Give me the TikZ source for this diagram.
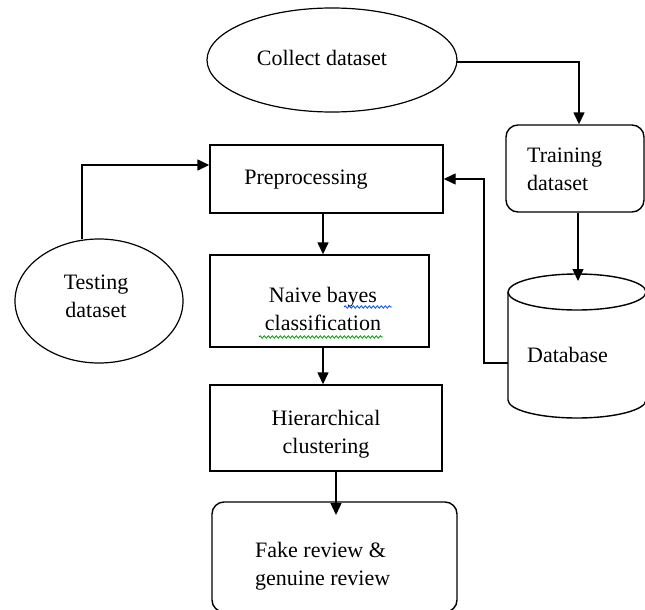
\documentclass[tikz,border=0pt]{standalone}
\usepackage{fontspec}
\setmainfont{Liberation Serif}
\usetikzlibrary{arrows.meta,decorations.pathmorphing}
\begin{document}
\begin{tikzpicture}[x=1pt,y=-1pt,
  line/.style={draw=black,line width=1.4pt},
  arr/.style={line,-{Triangle[width=11pt,length=12pt]}},
  box/.style={draw=black,line width=1.4pt,rectangle,inner sep=0pt},
  rbox/.style={box,rounded corners=12pt},
  txt/.style={inner sep=0pt,align=center,font=\fontsize{22}{28}\selectfont},
  txtl/.style={txt,align=left},
  squig/.style={draw=#1,line width=0.8pt,decorate,decoration={snake,amplitude=1.2pt,segment length=4pt}}
]
\useasboundingbox (0,0) rectangle (645,610);
% collect dataset
\draw[line width=1.2pt] (332,60) ellipse [x radius=125, y radius=52];
\node[inner sep=0pt,minimum width=250,minimum height=104] (col) at (332,60) {};
\node[txt] (colt) at (322,58) {Collect dataset};
% training dataset
\node[rbox,minimum width=138,minimum height=87] (trn) at (575,168.5) {};
\node[txtl,anchor=west] (trnt) at (527,169) {Training\\dataset};
% database cylinder
\draw[line width=1.4pt] (508,292) -- (508,400) arc[start angle=180,end angle=0,x radius=69,y radius=18] -- (646,292);
\draw[line width=1.4pt] (577,292) ellipse [x radius=69, y radius=18];
\node[inner sep=0pt,minimum width=138,minimum height=145] (db) at (577,346.5) {};
\node[txt,anchor=west] (dbt) at (527,355) {Database};
% testing dataset
\draw[line width=1.2pt] (99,301) ellipse [x radius=84, y radius=62];
\node[inner sep=0pt,minimum width=168,minimum height=124] (tst) at (99,301) {};
\node[txt] (tstt) at (96,296) {Testing\\dataset};
% preprocessing
\node[box,minimum width=233,minimum height=68] (pre) at (326.5,179) {};
\node[txt] (pret) at (306,180) {Preprocessing};
% naive bayes
\node[box,minimum width=219,minimum height=92] (nb) at (319.5,301) {};
\node[txt] (nbt) at (323,309) {Naive bayes\\classification};
\draw[squig=blue!70!cyan] (344,307) -- (392,307);
\draw[squig=green!60!black] (259,337) -- (383,337);
% hierarchical
\node[box,minimum width=232,minimum height=86] (hc) at (326,428) {};
\node[txt] (hct) at (326,434) {Hierarchical\\clustering};
% fake review
\node[rbox,minimum width=245,minimum height=110] (fr) at (334.5,557) {};
\node[txtl,anchor=west] (frt) at (255,566) {Fake review \&\\genuine review};
% connectors
\coordinate (colE) at (457,62);
\draw[arr] (colE) -| (trn.north -| 579,0);
\draw[arr] (trn.south -| 578,0) -- (578,281);
\coordinate (dbL) at (508,363);
\draw[arr] (dbL) -| (484,179) -- (pre.east);
\coordinate (tstT) at (82,239);
\draw[arr] (tstT) |- (pre.west |- 0,165);
\draw[arr] (pre.south -| 323,0) -- (nb.north -| 323,0);
\draw[arr] (nb.south -| 323,0) -- (hc.north -| 323,0);
\draw[arr] (hc.south -| 336,0) -- (336,515);
\end{tikzpicture}
\end{document}
